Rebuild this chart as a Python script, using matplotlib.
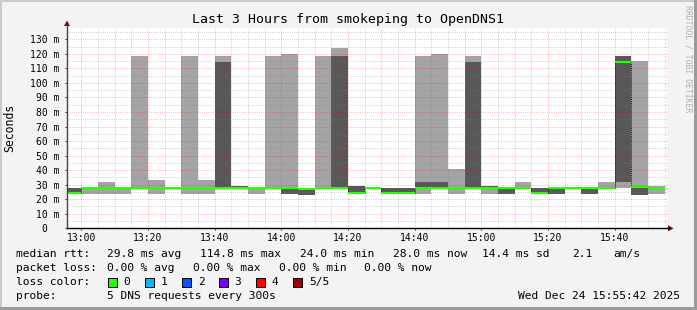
import matplotlib
matplotlib.use('Agg')
import matplotlib.pyplot as plt
from matplotlib.patches import Rectangle, Polygon
from matplotlib.lines import Line2D

W, H = 697, 310
MONO = 'DejaVu Sans Mono'

# 5 minute bins, start in minutes after 13:00 (graph spans 12:55:42 .. 15:55:42)
bin_start = list(range(-5, 175, 5))
# the 5 sorted pings per bin (ms): p1 lowest ... p5 highest, med = median
p1 = [24.0, 23.6, 23.6, 23.6, 27.4, 23.6, 27.4, 23.6, 23.6, 27.4, 27.4, 23.6,
      27.4, 23.6, 22.9, 27.4, 27.4, 24.0, 27.4, 24.0, 24.0, 23.6, 27.4, 23.6,
      27.4, 23.6, 23.6, 27.4, 24.0, 23.6, 27.4, 23.6, 27.4, 27.9, 22.9, 23.6]
p2 = [24.0, 27.4, 27.4, 27.4, 27.4, 27.4, 27.4, 27.4, 27.4, 27.4, 27.4, 27.4,
      27.4, 23.6, 22.9, 27.4, 27.4, 24.0, 27.4, 24.0, 24.0, 27.4, 27.4, 27.4,
      27.4, 27.4, 23.6, 27.4, 24.0, 23.6, 27.4, 23.6, 27.4, 31.8, 22.9, 27.4]
med = [24.1, 27.6, 27.6, 27.6, 27.6, 27.6, 27.6, 27.6, 27.6, 27.6, 27.6, 27.6,
       27.6, 27.6, 27.0, 27.6, 27.6, 24.1, 27.6, 24.1, 24.1, 27.6, 27.6, 27.6,
       27.6, 27.6, 27.6, 27.6, 24.1, 27.6, 27.6, 27.6, 27.6, 114.6, 28.4, 27.6]
p4 = [27.7, 27.8, 27.8, 27.8, 27.8, 27.8, 27.8, 27.8, 27.8, 114.4, 29.0, 27.8,
      27.8, 27.8, 27.9, 27.8, 118.5, 29.1, 27.8, 27.6, 27.6, 32.1, 32.1, 27.8,
      114.4, 29.1, 27.8, 27.8, 27.7, 27.8, 27.8, 27.8, 27.8, 118.5, 29.1, 27.8]
p5 = [27.7, 27.8, 31.8, 27.8, 118.5, 33.2, 27.8, 118.5, 33.2, 118.5, 29.0, 27.8,
      118.5, 119.9, 27.9, 118.5, 124.2, 29.1, 27.8, 27.6, 27.6, 118.5, 119.9, 40.8,
      118.5, 29.1, 27.8, 31.8, 27.7, 27.8, 27.8, 27.8, 31.8, 118.5, 115.1, 29.1]

xtick_pos = list(range(0, 161, 20))
xtick_lab = ['13:00', '13:20', '13:40', '14:00', '14:20', '14:40', '15:00', '15:20', '15:40']
ytick_pos = list(range(0, 131, 10))
ytick_lab = ['0  '] + ['%d m' % v for v in ytick_pos[1:]]

loss_labels = ['0', '1', '2', '3', '4', '5/5']
loss_colors = ['#26ff00', '#00b8ff', '#0059ff', '#7e00ff', '#ff0000', '#a10000']


def fx(x):
    return x / W


def fy(y):
    return 1 - y / H


fig = plt.figure(figsize=(W / 100, H / 100), dpi=100, facecolor='#f3f3f3')
left, right, top, bottom = 67, 667, 27.7, 228.3
ax = fig.add_axes([fx(left), fy(bottom), (right - left) / W, (bottom - top) / H])
ax.set_facecolor('white')
ax.set_xlim(-4.3, 175.7)
ax.set_ylim(0, 138.0)

# smoke: outer range (p1..p5) light, inner range (p2..p4) dark
ax.bar(bin_start, [b - a for a, b in zip(p1, p5)], width=5, bottom=p1,
       align='edge', color='#a4a4a4', linewidth=0, zorder=1)
ax.bar(bin_start, [b - a for a, b in zip(p2, p4)], width=5, bottom=p2,
       align='edge', color='#585858', linewidth=0, zorder=1.5)

# dotted grid on top of the smoke
major_c = (1, 0, 0, 0.28)
minor_c = (0.5, 0.5, 0.5, 0.35)
for v in range(5, 140, 5):
    ax.axhline(v, color=major_c if v % 10 == 0 else minor_c, lw=0.72,
               ls=(0, (1, 1.2)), zorder=2)
for v in range(0, 176, 5):
    ax.axvline(v, color=major_c if v % 20 == 0 else minor_c, lw=0.72,
               ls=(0, (1, 1.2)), zorder=2)

# median line
ends = [s + 5 for s in bin_start]
ax.hlines(med, bin_start, ends, color='#26ff00', lw=1.5, zorder=4)
for i in range(1, len(med)):
    if abs(med[i] - med[i - 1]) > 1:
        ax.vlines(bin_start[i], min(med[i], med[i - 1]), max(med[i], med[i - 1]),
                  color='#202020', lw=0.7, ls=(0, (1, 1)), zorder=3)

for s in ax.spines.values():
    s.set_visible(False)
ax.set_xticks(xtick_pos)
ax.set_xticklabels(xtick_lab, family=MONO, fontsize=7)
ax.set_yticks(ytick_pos)
ax.set_yticklabels(ytick_lab, family=MONO, fontsize=7)
ax.tick_params(axis='x', length=1.5, width=0.7, pad=2, color='#333333')
ax.tick_params(axis='y', length=1.5, width=0.7, pad=4, color='#333333')

# axis lines with arrows
fig.add_artist(Line2D([fx(left), fx(669)], [fy(bottom), fy(bottom)], color='black', lw=1.0))
fig.add_artist(Line2D([fx(left), fx(left)], [fy(bottom), fy(24)], color='#444444', lw=1.0))
fig.add_artist(Polygon([(fx(668), fy(bottom - 3)), (fx(668), fy(bottom + 3)), (fx(673.5), fy(bottom))],
                       closed=True, color='#8b0000', lw=0))
fig.add_artist(Polygon([(fx(left - 3), fy(26)), (fx(left + 3), fy(26)), (fx(left), fy(20.5))],
                       closed=True, color='#8b0000', lw=0))

fig.text(fx(347.5), fy(19), 'Last 3 Hours from smokeping to OpenDNS1', family=MONO,
         fontsize=9.5, ha='center', va='center')
fig.text(fx(10), fy(128), 'Seconds', family=MONO, fontsize=8.3, rotation=90,
         ha='center', va='center')
fig.text(fx(688), fy(59), 'RRDTOOL / TOBI OETIKER', family=MONO, fontsize=5.9,
         rotation=270, ha='center', va='center', color='#b0b0b0')

# legend block
fs = 8.1
rows = [254, 268, 282, 296]
line1 = [(16, 'median rtt:'), (107, '29.8 ms avg'), (200, '114.8 ms max'), (300.4, '24.0 ms min'),
         (392.9, '28.0 ms now'), (482.2, '14.4 ms sd'), (572, '2.1'), (613.3, 'am/s')]
line2 = [(16, 'packet loss:'), (107, '0.00 % avg'), (193.3, '0.00 % max'),
         (279.1, '0.00 % min'), (364.4, '0.00 % now')]
for x, t in line1:
    fig.text(fx(x), fy(rows[0]), t, family=MONO, fontsize=fs, va='center')
for x, t in line2:
    fig.text(fx(x), fy(rows[1]), t, family=MONO, fontsize=fs, va='center')
fig.text(fx(16), fy(rows[2]), 'loss color:', family=MONO, fontsize=fs, va='center')
box_x = [108, 145.3, 182.2, 219, 256.4, 293.3]
for bx, lab, col in zip(box_x, loss_labels, loss_colors):
    fig.add_artist(Rectangle((fx(bx), fy(rows[2] + 4.5)), 9 / W, 9 / H,
                             facecolor=col, edgecolor='black', lw=0.7))
    fig.text(fx(bx + 15.5), fy(rows[2]), lab, family=MONO, fontsize=fs, va='center')
fig.text(fx(16), fy(rows[3]), 'probe:', family=MONO, fontsize=fs, va='center')
fig.text(fx(107), fy(rows[3]), '5 DNS requests every 300s', family=MONO, fontsize=fs, va='center')
fig.text(fx(680.3), fy(rows[3]), 'Wed Dec 24 15:55:42 2025', family=MONO, fontsize=fs,
         va='center', ha='right')

# frame of the image
fig.add_artist(Rectangle((0, fy(2)), 1, 2 / H, facecolor='#cbcbcb', lw=0))
fig.add_artist(Rectangle((0, 0), 2 / W, 1, facecolor='#cbcbcb', lw=0))
fig.add_artist(Rectangle((fx(694), 0), 3 / W, 1, facecolor='#9a9a9a', lw=0))
fig.add_artist(Rectangle((0, 0), 1, 3 / H, facecolor='#9a9a9a', lw=0))

fig.savefig('out.png', dpi=100, facecolor=fig.get_facecolor())
